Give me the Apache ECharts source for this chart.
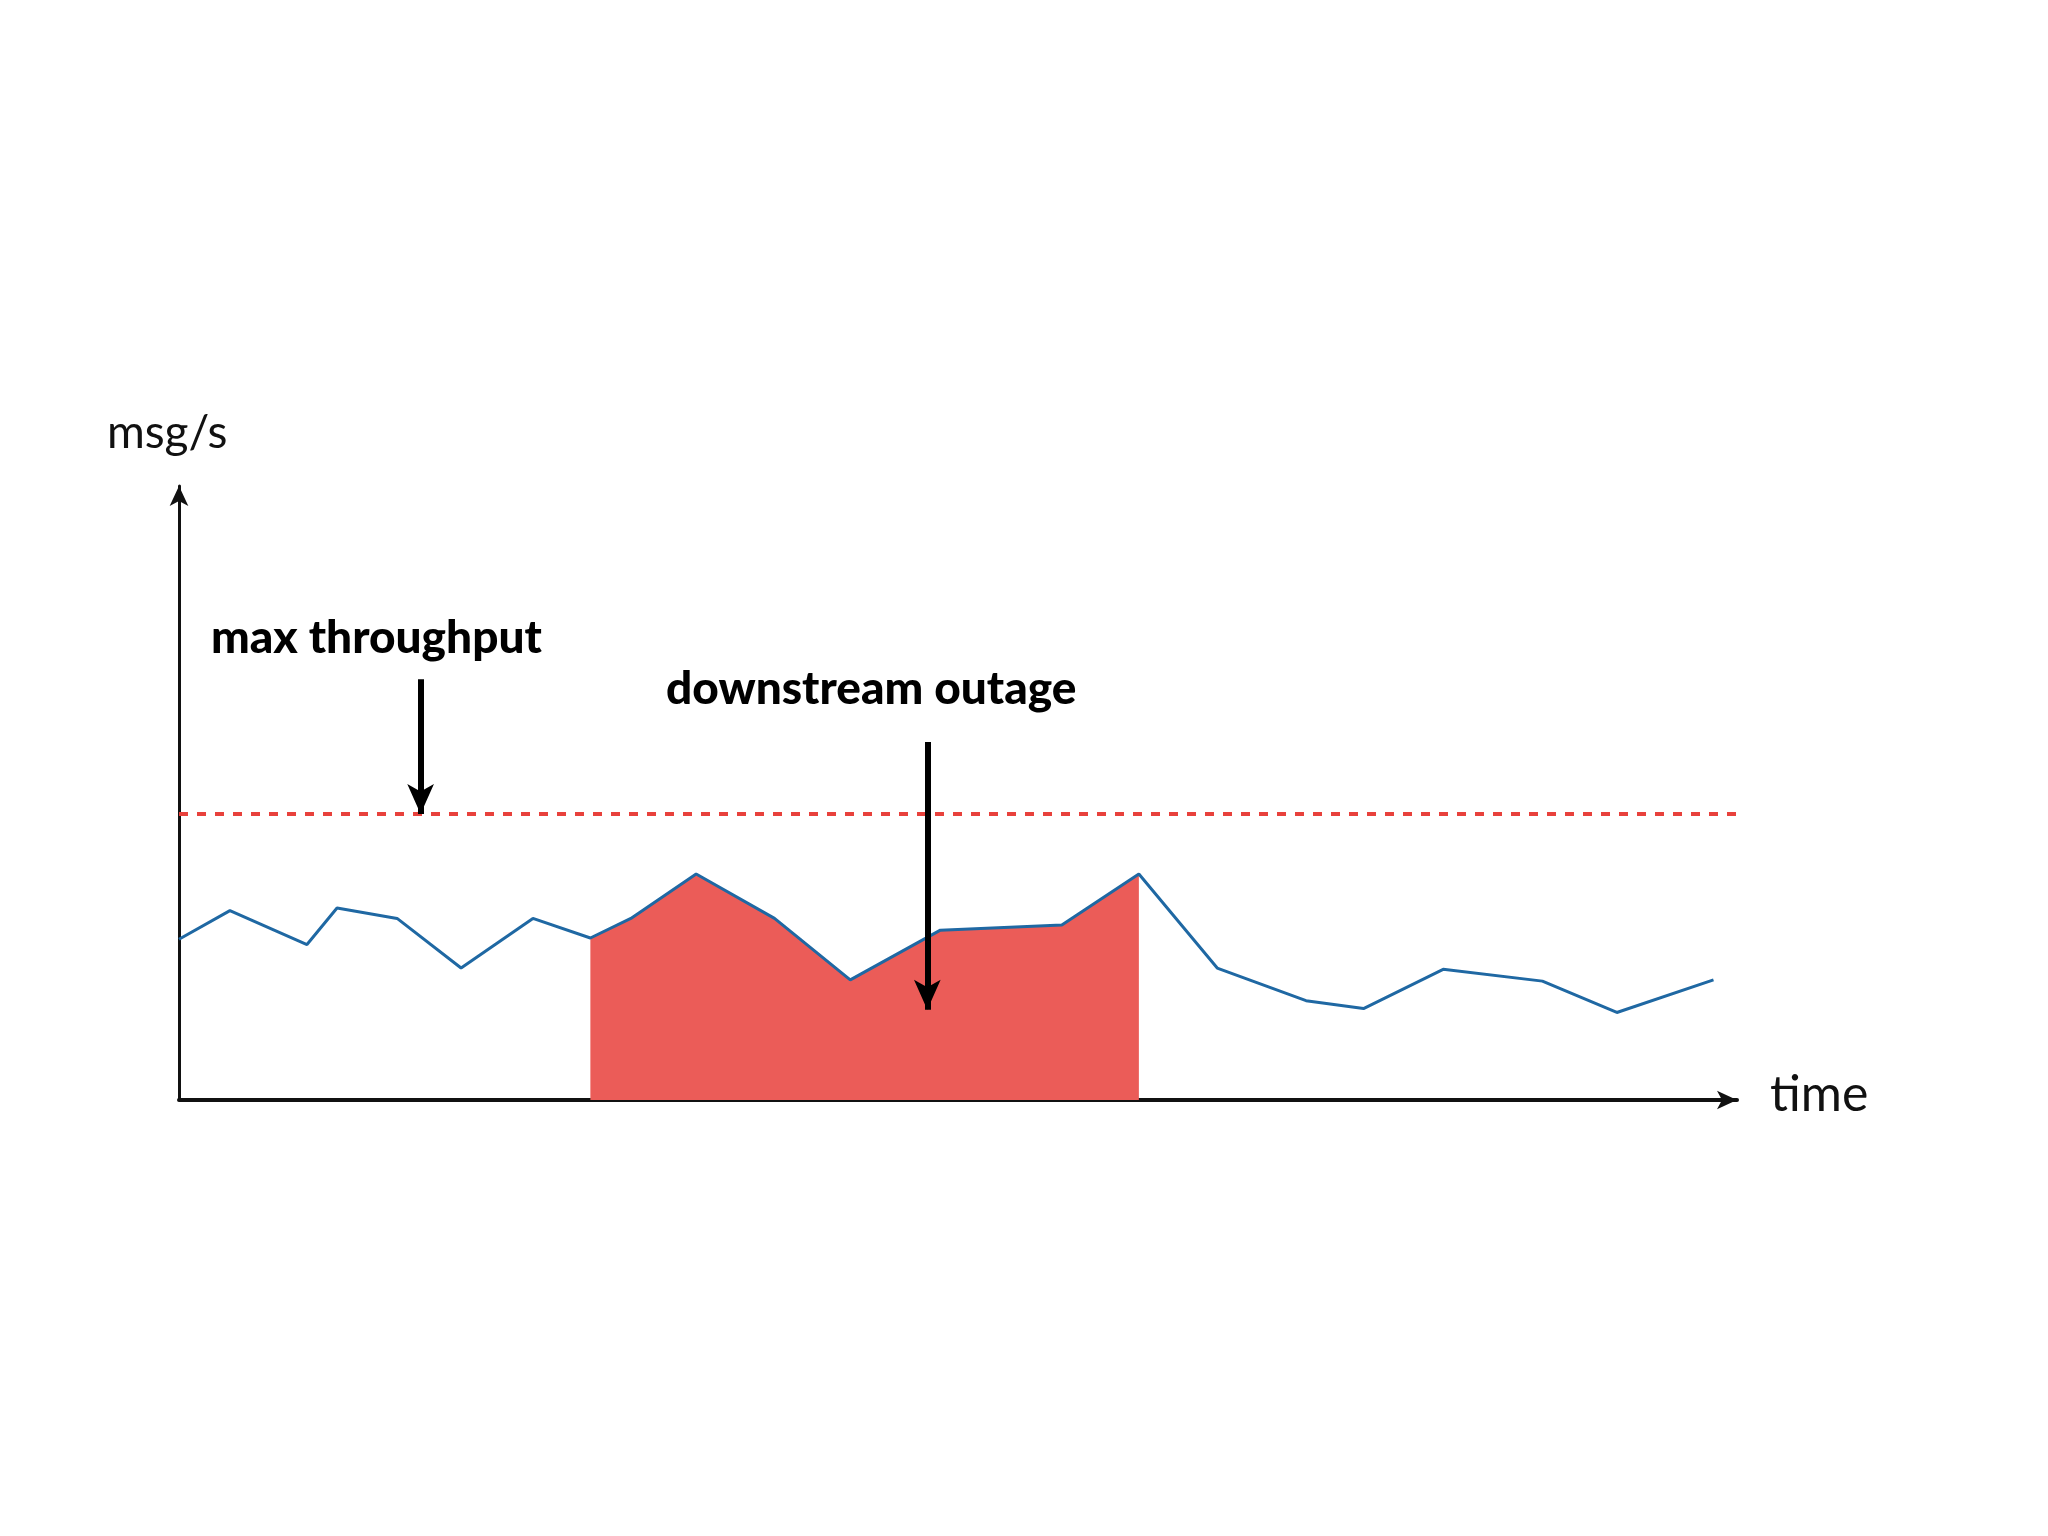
<!DOCTYPE html>
<html>
<head>
<meta charset="utf-8">
<script src="https://cdn.jsdelivr.net/npm/echarts@6/dist/echarts.min.js"></script>
<style>html,body{margin:0;padding:0;background:#fff}#chart{width:2048px;height:1536px}</style>
</head>
<body>
<div id="chart"></div>
<script>
// time and throughput values (arbitrary units)
var times = [0, 39, 98, 121, 167, 216, 271, 315, 346, 396, 456, 514, 583, 676, 735, 795, 863, 907, 968, 1044, 1101, 1175];
var rates = [123, 145, 119, 147, 139, 101, 139, 124, 139, 173, 139, 92, 130, 134, 173, 101, 76, 70, 100, 91, 67, 92];
var outageStart = 315;
var outageEnd = 735;
var maxThroughput = 219;

var lineData = times.map(function (t, i) { return [t, rates[i]]; });
var outageData = lineData.filter(function (p) { return p[0] >= outageStart && p[0] <= outageEnd; });

var chart = echarts.init(document.getElementById("chart"), null, { renderer: "canvas" });
var font = "Lato, 'Open Sans', sans-serif";
var option = {
  animation: false,
  backgroundColor: "#ffffff",
  grid: { left: 179, top: 486, width: 1558, height: 614 },
  xAxis: {
    type: "value", min: 0, max: 1193,
    axisLine: { show: true, symbol: ["none", "arrow"], symbolSize: [14, 20], lineStyle: { color: "#111", width: 4 } },
    axisTick: { show: false }, axisLabel: { show: false }, splitLine: { show: false }
  },
  yAxis: {
    type: "value", min: 0, max: 470,
    axisLine: { show: true, symbol: ["none", "arrow"], symbolSize: [14, 20], lineStyle: { color: "#111", width: 3 } },
    axisTick: { show: false }, axisLabel: { show: false }, splitLine: { show: false }
  },
  series: [
    {
      type: "line", data: outageData, symbol: "none", z: 1,
      lineStyle: { width: 0 },
      areaStyle: { color: "#eb5c58", opacity: 1 }
    },
    {
      type: "line", data: lineData, symbol: "none", z: 3,
      lineStyle: { color: "#1f68a3", width: 3 },
      markLine: {
        silent: true, symbol: "none", label: { show: false },
        lineStyle: { color: "#e8413c", width: 4, type: [9, 9] },
        data: [{ yAxis: maxThroughput }]
      }
    },
    {
      type: "line", data: [], z: 4,
      markLine: {
        silent: true, symbol: ["none", "arrow"], symbolSize: [20, 30], label: { show: false },
        lineStyle: { color: "#000", width: 6, type: "solid" },
        data: [
          [{ coord: [185, 322] }, { coord: [185, maxThroughput] }],
          [{ coord: [573, 274] }, { coord: [573, 69] }]
        ]
      }
    }
  ],
  graphic: [
    { type: "text", left: 107, top: 410, style: { text: "msg/s", font: "400 46px " + font, fill: "#111" } },
    { type: "text", left: 1770, top: 1070, style: { text: "time", font: "400 50px " + font, fill: "#111" } },
    { type: "text", left: 211, top: 615, style: { text: "max throughput", font: "900 46px " + font, fill: "#000" } },
    { type: "text", left: 666, top: 666, style: { text: "downstream outage", font: "900 46px " + font, fill: "#000" } }
  ]
};
chart.setOption(option);
</script>
</body>
</html>
